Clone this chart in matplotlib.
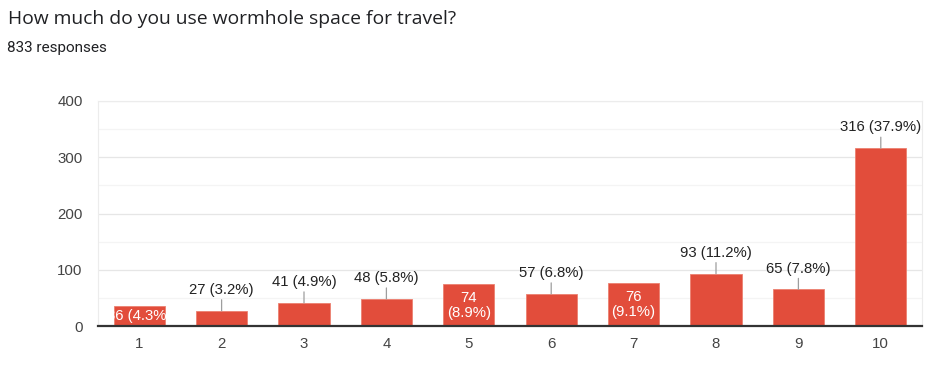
import matplotlib.pyplot as plt
from matplotlib.ticker import MultipleLocator

# survey answers (scale 1..10)
categories = ['1', '2', '3', '4', '5', '6', '7', '8', '9', '10']
counts = [36, 27, 41, 48, 74, 57, 76, 93, 65, 316]
percents = ['4.3%', '3.2%', '4.9%', '5.8%', '8.9%', '6.8%', '9.1%', '11.2%', '7.8%', '37.9%']
inside = [True, False, False, False, True, False, True, False, False, False]
total = 833

barColor = '#e24d3b'
chartFont = 'Liberation Sans'

fig = plt.figure(figsize=(9.29, 3.66), dpi=100)
ax = fig.add_axes([98/929, 40/366, 824/929, 225/366])

xs = list(range(1, len(categories) + 1))
bars = ax.bar(xs, counts, width=0.62, color=barColor, edgecolor='#ec8070', linewidth=0.6, zorder=3)

for x, v, p, isIn, bar in zip(xs, counts, percents, inside, bars):
    if isIn:
        # label sits inside the bar; wrap when it does not fit
        txt = '%d (%s)' % (v, p) if v < 50 else '%d\n(%s)' % (v, p)
        t = ax.text(x, v / 2, txt, ha='center', va='center', color='white',
                    fontsize=10.7, family=chartFont, zorder=4, linespacing=1.1)
        t.set_clip_path(bar)
    else:
        ax.annotate('%d (%s)' % (v, p), xy=(x, v), xytext=(0, 15), textcoords='offset points',
                    ha='center', va='center', fontsize=10.7, family=chartFont, color='#222222',
                    arrowprops=dict(arrowstyle='-', color='#9e9e9e', lw=0.9, shrinkA=0, shrinkB=0))

ax.set_xlim(0.5, len(categories) + 0.5)
ax.set_ylim(0, 400)
ax.set_xticks(xs)
ax.set_xticklabels(categories)
ax.yaxis.set_major_locator(MultipleLocator(100))
ax.yaxis.set_minor_locator(MultipleLocator(50))
ax.grid(axis='y', which='major', color='#e6e6e6', lw=0.9, zorder=0)
ax.grid(axis='y', which='minor', color='#f4f4f4', lw=0.9, zorder=0)
ax.tick_params(axis='both', which='both', length=0, labelsize=10.8, labelcolor='#444444')
ax.tick_params(axis='x', pad=8)
ax.tick_params(axis='y', pad=11)
for lbl in ax.get_xticklabels() + ax.get_yticklabels():
    lbl.set_family(chartFont)

for side in ['left', 'right', 'top']:
    ax.spines[side].set_color('#ececec')
    ax.spines[side].set_linewidth(0.8)
ax.spines['bottom'].set_color('#333333')
ax.spines['bottom'].set_linewidth(1.6)
ax.spines['bottom'].set_zorder(5)

fig.text(8/929, 1 - 19/366, 'How much do you use wormhole space for travel?', fontsize=13.9,
         family='Open Sans', color='#202124', va='center')
fig.text(7/929, 1 - 48/366, '%d responses' % total, fontsize=11,
         family='Roboto', color='#202124', va='center')

fig.savefig('out.png', dpi=100)
